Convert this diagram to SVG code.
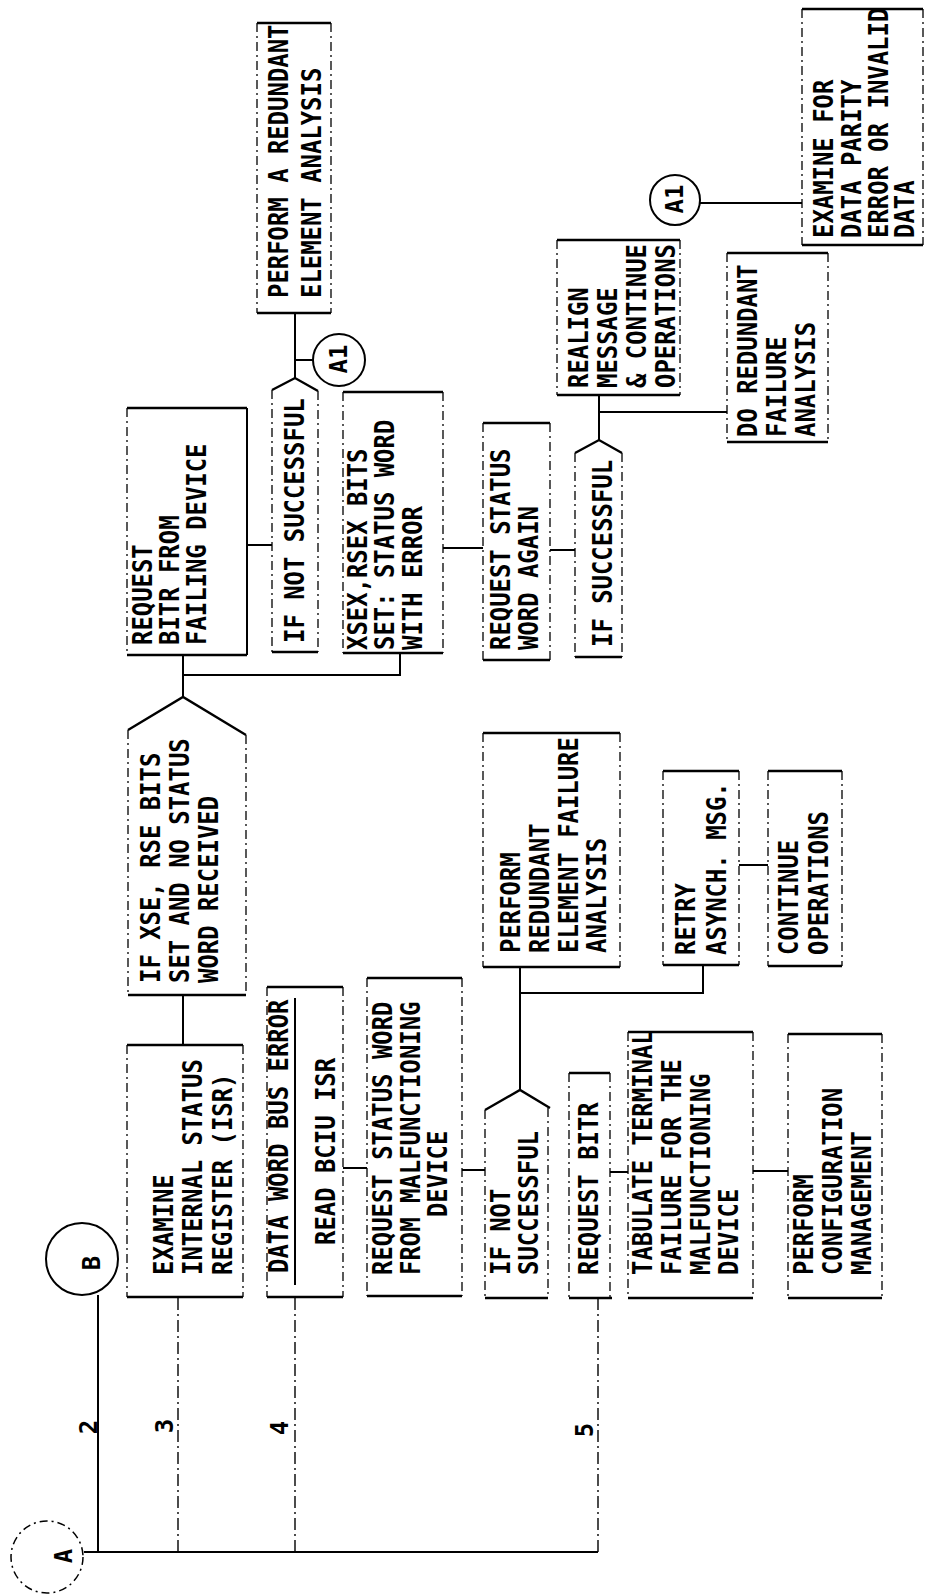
<svg xmlns="http://www.w3.org/2000/svg" width="927" height="1596" viewBox="0 0 927 1596">
<style>
.bg{fill:#fff}
.t{font-family:"DejaVu Sans Mono","Liberation Mono",monospace;font-size:26px;font-weight:bold;fill:#000}
.n{font-family:"DejaVu Sans Mono","Liberation Mono",monospace;font-size:24px;font-weight:bold;fill:#000;text-anchor:middle}
.h{fill:none;stroke:#000;stroke-width:2.4}
.v{fill:none;stroke:#000;stroke-width:1.3;stroke-dasharray:9 4 2 4}
.c{fill:none;stroke:#000;stroke-width:2}
.d{fill:none;stroke:#000;stroke-width:1.4;stroke-dasharray:12 4 2 4}
.o{fill:#fff;stroke:#000;stroke-width:2}
.od{fill:#fff;stroke:#000;stroke-width:1.5;stroke-dasharray:8 4 2 4}
</style>
<rect class="bg" x="0" y="0" width="927" height="1596"/>

<g id="connectors">
<path class="c" d="M84,1552 H598"/>
<path class="c" d="M98,1552 V1295"/>
<path class="d" d="M178,1552 V1297"/>
<path class="d" d="M295,1552 V1297"/>
<path class="d" d="M598,1552 V1298"/>
<path class="c" d="M183,1045 V995"/>
<path class="c" d="M183,697 V655 M183,675 H400 V653"/>
<path class="c" d="M247,545 H272"/>
<path class="c" d="M295,378 V313 M295,360 H313"/>
<path class="c" d="M443,548 H483"/>
<path class="c" d="M550,550 H575"/>
<path class="c" d="M599,440 V395 M599,412 H727"/>
<path class="c" d="M700,203 H802"/>
<path class="c" d="M343,1168 H367"/>
<path class="c" d="M462,1170 H485"/>
<path class="c" d="M520,1090 V967 M520,993 H703 V965"/>
<path class="c" d="M739,865 H768"/>
<path class="c" d="M610,1172 H628"/>
<path class="c" d="M753,1171 H788"/>
</g>

<g id="n_A">
<circle class="od" cx="47" cy="1557" r="36"/>
<text class="n" transform="translate(72,1556) rotate(-90)">A</text>
</g>
<g id="n_B">
<circle class="o" cx="82" cy="1259" r="36"/>
<text class="n" transform="translate(100,1263) rotate(-90)">B</text>
</g>
<g id="labels">
<text class="n" transform="translate(97,1427) rotate(-90)">2</text>
<text class="n" transform="translate(173,1426) rotate(-90)">3</text>
<text class="n" transform="translate(288,1428) rotate(-90)">4</text>
<text class="n" transform="translate(593,1430) rotate(-90)">5</text>
</g>

<g id="n_examine">
<path class="h" d="M127,1045 H243 M127,1297 H243"/>
<path class="v" d="M127,1045 V1297 M243,1045 V1297"/>
<text class="t" transform="translate(173,1275) rotate(-90) scale(0.92,1)"><tspan x="0" y="0">EXAMINE</tspan><tspan x="0" y="29.5">INTERNAL STATUS</tspan><tspan x="0" y="59">REGISTER (ISR)</tspan></text>
</g>

<g id="n_ifxse">
<path class="h" d="M128,730 L183,697 L246,735 M128,995 H246"/>
<path class="v" d="M128,730 V995 M246,735 V995"/>
<text class="t" transform="translate(160,983) rotate(-90) scale(0.92,1)"><tspan x="0" y="0">IF XSE, RSE BITS</tspan><tspan x="0" y="29">SET AND NO STATUS</tspan><tspan x="0" y="58">WORD RECEIVED</tspan></text>
</g>

<g id="n_reqbitr1">
<path class="h" d="M127,408 H247 M127,655 H247"/>
<path class="v" d="M127,408 V655"/>
<path class="c" d="M247,408 V655"/>
<text class="t" transform="translate(152,645) rotate(-90) scale(0.92,1)"><tspan x="0" y="0">REQUEST</tspan><tspan x="0" y="27">BITR FROM</tspan><tspan x="0" y="54">FAILING DEVICE</tspan></text>
</g>

<g id="n_ifnot1">
<path class="h" d="M272,390 L295,378 L318,391 M272,652 H318"/>
<path class="v" d="M272,390 V652 M318,391 V652"/>
<text class="t" transform="translate(304,643) rotate(-90) scale(0.92,1)">IF NOT SUCCESSFUL</text>
</g>

<g id="n_perform1">
<path class="h" d="M257,23 H331 M257,313 H331"/>
<path class="v" d="M257,23 V313 M331,23 V313"/>
<text class="t" transform="translate(288,298) rotate(-90) scale(0.92,1)"><tspan x="0" y="0">PERFORM A REDUNDANT</tspan><tspan x="0" y="33">ELEMENT ANALYSIS</tspan></text>
</g>

<g id="n_a1a">
<circle class="o" cx="339" cy="360" r="26"/>
<text class="n" transform="translate(347,359) rotate(-90)">A1</text>
</g>

<g id="n_xsex">
<path class="h" d="M343,392 H443 M343,653 H443"/>
<path class="v" d="M343,392 V653 M443,392 V653"/>
<text class="t" transform="translate(367,650) rotate(-90) scale(0.92,1)"><tspan x="0" y="0">XSEX,RSEX BITS</tspan><tspan x="0" y="27">SET: STATUS WORD</tspan><tspan x="0" y="55">WITH ERROR</tspan></text>
</g>

<g id="n_reqagain">
<path class="h" d="M483,423 H550 M483,660 H550"/>
<path class="v" d="M483,423 V660 M550,423 V660"/>
<text class="t" transform="translate(510,650) rotate(-90) scale(0.92,1)"><tspan x="0" y="0">REQUEST STATUS</tspan><tspan x="0" y="28">WORD AGAIN</tspan></text>
</g>

<g id="n_ifsucc">
<path class="h" d="M575,453 L599,440 L622,453 M575,657 H622"/>
<path class="v" d="M575,453 V657 M622,453 V657"/>
<text class="t" transform="translate(612,647) rotate(-90) scale(0.92,1)">IF SUCCESSFUL</text>
</g>

<g id="n_realign">
<path class="h" d="M557,240 H680 M557,395 H680"/>
<path class="v" d="M557,240 V395 M680,240 V395"/>
<text class="t" transform="translate(588,388) rotate(-90) scale(0.92,1)"><tspan x="0" y="0">REALIGN</tspan><tspan x="0" y="29">MESSAGE</tspan><tspan x="0" y="58">&amp; CONTINUE</tspan><tspan x="0" y="87">OPERATIONS</tspan></text>
</g>

<g id="n_doredundant">
<path class="h" d="M727,253 H828 M727,442 H828"/>
<path class="v" d="M727,253 V442 M828,253 V442"/>
<text class="t" transform="translate(757,437) rotate(-90) scale(0.92,1)"><tspan x="0" y="0">DO REDUNDANT</tspan><tspan x="0" y="29">FAILURE</tspan><tspan x="0" y="58">ANALYSIS</tspan></text>
</g>

<g id="n_a1b">
<circle class="o" cx="675" cy="200" r="25"/>
<text class="n" transform="translate(683,199) rotate(-90)">A1</text>
</g>

<g id="n_examinefor">
<path class="h" d="M802,9 H923 M802,245 H923"/>
<path class="v" d="M802,9 V245 M923,9 V245"/>
<text class="t" transform="translate(833,238) rotate(-90) scale(0.92,1)"><tspan x="0" y="0">EXAMINE FOR</tspan><tspan x="0" y="28">DATA PARITY</tspan><tspan x="0" y="55">ERROR OR INVALID</tspan><tspan x="0" y="81">DATA</tspan></text>
</g>

<g id="n_dataword">
<path class="h" d="M267,987 H343 M267,1297 H343"/>
<path class="v" d="M267,987 V1297 M343,987 V1297"/>
<path class="c" d="M295,998 V1285"/>
<text class="t" transform="translate(288,1273) rotate(-90) scale(0.92,1)">DATA WORD BUS ERROR</text>
<text class="t" transform="translate(335,1245) rotate(-90) scale(0.92,1)">READ BCIU ISR</text>
</g>

<g id="n_reqstatus">
<path class="h" d="M367,978 H462 M367,1296 H462"/>
<path class="v" d="M367,978 V1296 M462,978 V1296"/>
<text class="t" transform="translate(392,1275) rotate(-90) scale(0.92,1)"><tspan x="0" y="0">REQUEST STATUS WORD</tspan><tspan x="0" y="28">FROM MALFUNCTIONING</tspan><tspan x="63" y="55">DEVICE</tspan></text>
</g>

<g id="n_ifnot2">
<path class="h" d="M485,1110 L520,1090 L550,1108 M485,1298 H548"/>
<path class="v" d="M485,1110 V1298 M548,1108 V1298"/>
<text class="t" transform="translate(510,1275) rotate(-90) scale(0.92,1)"><tspan x="0" y="0">IF NOT</tspan><tspan x="0" y="28">SUCCESSFUL</tspan></text>
</g>

<g id="n_perform2">
<path class="h" d="M483,733 H620 M483,967 H620"/>
<path class="v" d="M483,733 V967 M620,733 V967"/>
<text class="t" transform="translate(520,953) rotate(-90) scale(0.92,1)"><tspan x="0" y="0">PERFORM</tspan><tspan x="0" y="29">REDUNDANT</tspan><tspan x="0" y="58">ELEMENT FAILURE</tspan><tspan x="0" y="86">ANALYSIS</tspan></text>
</g>

<g id="n_retry">
<path class="h" d="M663,771 H739 M663,965 H739"/>
<path class="v" d="M663,771 V965 M739,771 V965"/>
<text class="t" transform="translate(695,955) rotate(-90) scale(0.92,1)"><tspan x="0" y="0">RETRY</tspan><tspan x="0" y="31">ASYNCH. MSG.</tspan></text>
</g>

<g id="n_continue">
<path class="h" d="M768,771 H842 M768,966 H842"/>
<path class="v" d="M768,771 V966 M842,771 V966"/>
<text class="t" transform="translate(798,955) rotate(-90) scale(0.92,1)"><tspan x="0" y="0">CONTINUE</tspan><tspan x="0" y="30">OPERATIONS</tspan></text>
</g>

<g id="n_reqbitr2">
<path class="h" d="M569,1073 H610 M569,1298 H612"/>
<path class="v" d="M569,1073 V1298 M610,1073 V1298"/>
<text class="t" transform="translate(598,1275) rotate(-90) scale(0.92,1)">REQUEST BITR</text>
</g>

<g id="n_tabulate">
<path class="h" d="M628,1032 H753 M628,1298 H753"/>
<path class="v" d="M628,1032 V1298 M753,1032 V1298"/>
<text class="t" transform="translate(652,1275) rotate(-90) scale(0.92,1)"><tspan x="0" y="0">TABULATE TERMINAL</tspan><tspan x="0" y="29">FAILURE FOR THE</tspan><tspan x="0" y="58">MALFUNCTIONING</tspan><tspan x="0" y="86">DEVICE</tspan></text>
</g>

<g id="n_perfconfig">
<path class="h" d="M788,1034 H882 M788,1298 H882"/>
<path class="v" d="M788,1034 V1298 M882,1034 V1298"/>
<text class="t" transform="translate(813,1275) rotate(-90) scale(0.92,1)"><tspan x="0" y="0">PERFORM</tspan><tspan x="0" y="29">CONFIGURATION</tspan><tspan x="0" y="58">MANAGEMENT</tspan></text>
</g>
</svg>
